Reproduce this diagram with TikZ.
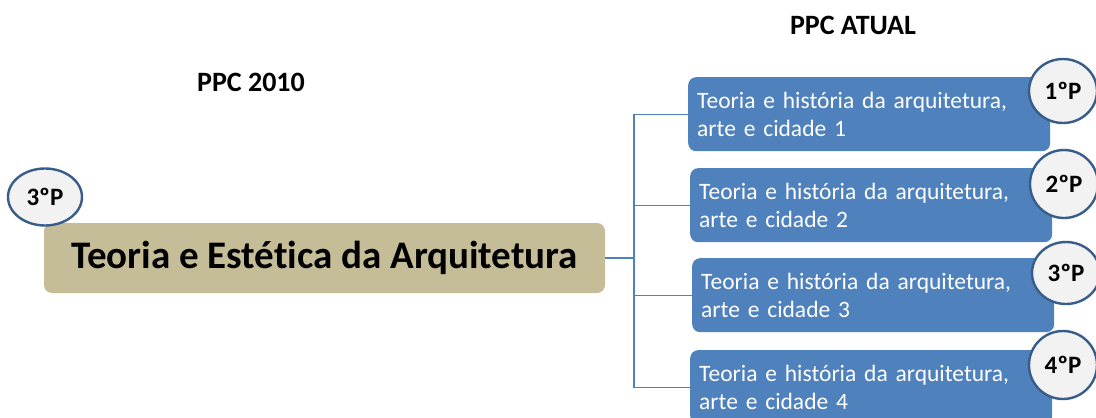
\documentclass[tikz,border=0pt]{standalone}
\usepackage{fontspec}
\setmainfont{Carlito}[Ligatures=NoCommon]
\usetikzlibrary{shapes.geometric}
\definecolor{tanfill}{HTML}{C4BD97}
\definecolor{bluefill}{HTML}{4F81BD}
\definecolor{ringblue}{HTML}{385D8A}
\definecolor{ringfill}{HTML}{F2F2F2}
\tikzset{
  mainbox/.style={fill=tanfill, rounded corners=8pt, minimum width=561pt, minimum height=70pt, inner sep=0pt, font=\fontsize{39}{44}\selectfont\bfseries},
  bluebox/.style={fill=bluefill, rounded corners=8pt, text=white, text width=344pt, align=left, inner xsep=9pt, inner ysep=0pt, minimum height=74pt, anchor=north west, font=\fontsize{23.5}{27.5}\selectfont},
  ring/.style={ellipse, draw=ringblue, line width=2.4pt, fill=ringfill, minimum width=#1, inner sep=0pt, font=\fontsize{25}{28}\selectfont\bfseries},
  link/.style={draw=bluefill, line width=1.2pt},
  title/.style={font=\fontsize{28}{32}\selectfont\bfseries}
}
\begin{document}
\begin{tikzpicture}[x=1pt,y=-1pt]
\clip (0,0) rectangle (1096,418);
\fill[white] (0,0) rectangle (1096,418);
\node[title] (t1) at (251,82) {PPC 2010};
\node[title] (t2) at (853,25) {PPC ATUAL};
\node[mainbox] (main) at (324.5,258) {Teoria e Estética da Arquitetura};
\node[ring=74pt, minimum height=57pt] (c0) at (45,197) {3ºP};
\node[bluebox] (b1) at (688,77) {Teoria e história da arquitetura,\\arte e cidade 1};
\node[bluebox] (b2) at (690,168) {Teoria e história da arquitetura,\\arte e cidade 2};
\node[bluebox] (b3) at (692,258) {Teoria e história da arquitetura,\\arte e cidade 3};
\node[bluebox] (b4) at (690,350) {Teoria e história da arquitetura,\\arte e cidade 4};
\coordinate (hub) at (634,258);
\draw[link] (main.east) -- (hub);
\draw[link] (hub) |- (b1.west);
\draw[link] (hub) |- (b2.west);
\draw[link] (hub) |- (b3.west);
\draw[link] (hub) |- (b4.west);
\node[ring=68pt, minimum height=64pt] (c1) at (1063,91) {1ºP};
\node[ring=68pt, minimum height=68pt] (c2) at (1064,184) {2ºP};
\node[ring=68pt, minimum height=62pt] (c3) at (1066,273) {3ºP};
\node[ring=68pt, minimum height=68pt] (c4) at (1063,365) {4ºP};
\end{tikzpicture}
\end{document}
